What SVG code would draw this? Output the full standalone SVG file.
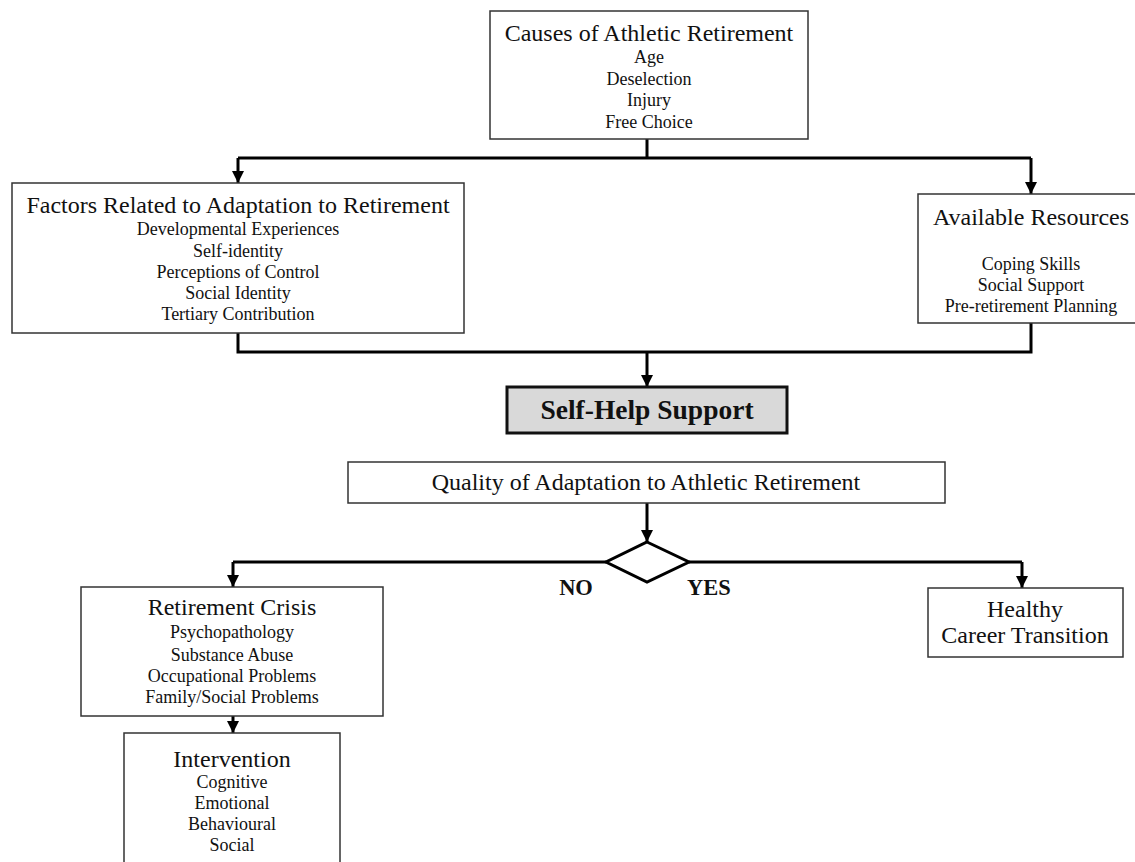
<svg xmlns="http://www.w3.org/2000/svg" width="1135" height="862" viewBox="0 0 1135 862">
  <defs>
    <marker id="arrow" viewBox="0 0 10 10" refX="10" refY="5" markerWidth="12" markerHeight="12" markerUnits="userSpaceOnUse" orient="auto">
      <path d="M0,0 L10,5 L0,10 z" fill="#000"/>
    </marker>
    <style>
      .box { fill: #fff; stroke: #333; stroke-width: 1.5; }
      .title { font-family: "Liberation Serif", "Times New Roman", serif; font-size: 24px; fill: #111; text-anchor: middle; }
      .item { font-family: "Liberation Serif", "Times New Roman", serif; font-size: 18px; fill: #111; text-anchor: middle; }
      .bold { font-family: "Liberation Serif", "Times New Roman", serif; font-weight: bold; fill: #111; text-anchor: middle; }
      .conn { fill: none; stroke: #000; stroke-width: 3; }
    </style>
  </defs>
  <rect width="1135" height="862" fill="#fff"/>

  <!-- connectors -->
  <g id="connectors">
    <path class="conn" d="M647,139 V158 M238,158 H1031"/>
    <path class="conn" d="M238,158 V183" marker-end="url(#arrow)"/>
    <path class="conn" d="M1031,158 V194" marker-end="url(#arrow)"/>
    <path class="conn" d="M238,333 V352 H1031 V323"/>
    <path class="conn" d="M647,352 V387" marker-end="url(#arrow)"/>
    <path class="conn" d="M647,503 V542" marker-end="url(#arrow)"/>
    <path class="conn" d="M606,562 H233"/>
    <path class="conn" d="M233,562 V587" marker-end="url(#arrow)"/>
    <path class="conn" d="M689,562 H1022"/>
    <path class="conn" d="M1022,562 V588" marker-end="url(#arrow)"/>
    <path class="conn" d="M233,716 V733" marker-end="url(#arrow)"/>
  </g>

  <!-- causes -->
  <g id="causes">
    <rect class="box" x="490" y="11" width="318" height="128"/>
    <text class="title" x="649" y="41">Causes of Athletic Retirement</text>
    <text class="item" x="649" y="63">Age</text>
    <text class="item" x="649" y="85">Deselection</text>
    <text class="item" x="649" y="106">Injury</text>
    <text class="item" x="649" y="128">Free Choice</text>
  </g>

  <!-- factors -->
  <g id="factors">
    <rect class="box" x="12" y="183" width="452" height="150"/>
    <text class="title" x="238" y="213">Factors Related to Adaptation to Retirement</text>
    <text class="item" x="238" y="235">Developmental Experiences</text>
    <text class="item" x="238" y="257">Self-identity</text>
    <text class="item" x="238" y="278">Perceptions of Control</text>
    <text class="item" x="238" y="299">Social Identity</text>
    <text class="item" x="238" y="320">Tertiary Contribution</text>
  </g>

  <!-- resources -->
  <g id="resources">
    <rect class="box" x="918" y="194" width="228" height="129"/>
    <text class="title" x="1031" y="225">Available Resources</text>
    <text class="item" x="1031" y="270">Coping Skills</text>
    <text class="item" x="1031" y="291">Social Support</text>
    <text class="item" x="1031" y="312">Pre-retirement Planning</text>
  </g>

  <!-- self-help -->
  <g id="selfhelp">
    <rect x="507" y="387" width="280" height="46" fill="#d9d9d9" stroke="#111" stroke-width="3"/>
    <text class="bold" x="647" y="419" font-size="27.5">Self-Help Support</text>
  </g>

  <!-- quality -->
  <g id="quality">
    <rect class="box" x="348" y="462" width="597" height="41"/>
    <text class="title" x="646" y="490">Quality of Adaptation to Athletic Retirement</text>
  </g>

  <!-- decision -->
  <g id="decision">
    <polygon points="647,542 689,562 647,582 606,562" fill="#fff" stroke="#000" stroke-width="3"/>
    <text class="bold" x="576" y="595" font-size="22.5">NO</text>
    <text class="bold" x="709" y="595" font-size="22.5">YES</text>
  </g>

  <!-- crisis -->
  <g id="crisis">
    <rect class="box" x="81" y="587" width="302" height="129"/>
    <text class="title" x="232" y="615">Retirement Crisis</text>
    <text class="item" x="232" y="638">Psychopathology</text>
    <text class="item" x="232" y="661">Substance Abuse</text>
    <text class="item" x="232" y="682">Occupational Problems</text>
    <text class="item" x="232" y="703">Family/Social Problems</text>
  </g>

  <!-- intervention -->
  <g id="intervention">
    <rect class="box" x="124" y="733" width="216" height="140"/>
    <text class="title" x="232" y="767">Intervention</text>
    <text class="item" x="232" y="788">Cognitive</text>
    <text class="item" x="232" y="809">Emotional</text>
    <text class="item" x="232" y="830">Behavioural</text>
    <text class="item" x="232" y="851">Social</text>
  </g>

  <!-- healthy -->
  <g id="healthy">
    <rect class="box" x="928" y="588" width="195" height="69"/>
    <text class="title" x="1025" y="617">Healthy</text>
    <text class="title" x="1025" y="643">Career Transition</text>
  </g>
</svg>
